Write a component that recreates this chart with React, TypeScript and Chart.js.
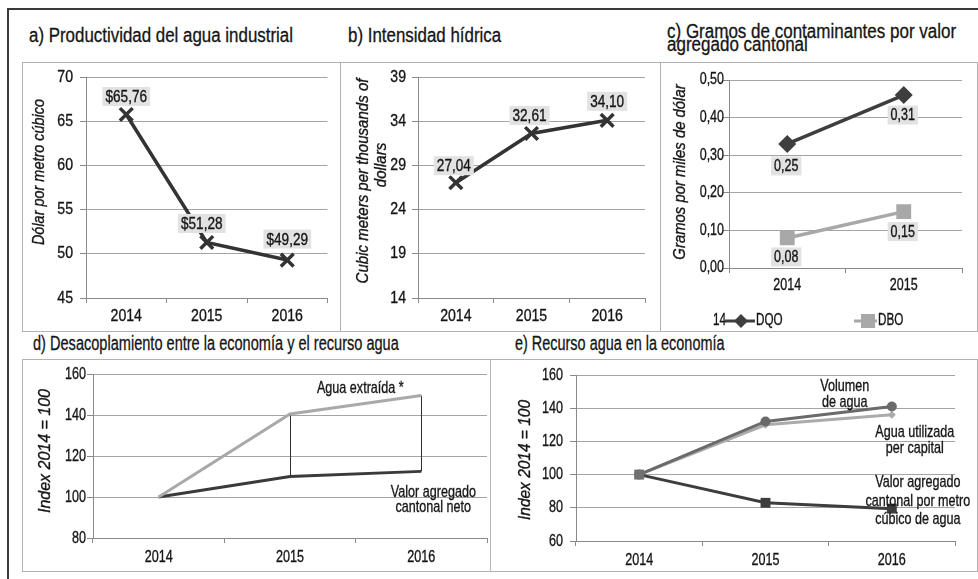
import React, { useEffect, useRef } from "react";
import { Chart, registerables } from "chart.js";
Chart.register(...registerables);

const FONT = "'Liberation Sans', Arial, sans-serif";
const TXT = "#151515";
const GRID = "#a4a4a4";
const AXIS = "#8a8a8a";

// ---- data ----
const years3 = ["2014", "2015", "2016"];
const years2 = ["2014", "2015"];

// a) Productividad del agua industrial
const productividad = [65.76, 51.28, 49.29];
const productividadLabels = ["$65,76", "$51,28", "$49,29"];
const ticksA = { min: 45, max: 70, step: 5 };

// b) Intensidad hídrica
const intensidad = [27.04, 32.61, 34.1];
const intensidadLabels = ["27,04", "32,61", "34,10"];
const ticksB = { min: 14, max: 39, step: 5 };

// c) Gramos de contaminantes
const dqo = [0.33, 0.46];
const dbo = [0.08, 0.15];
const dqoLabels = ["0,25", "0,31"];
const dboLabels = ["0,08", "0,15"];
const ticksC = { min: 0, max: 0.5, step: 0.1 };

// d) Desacoplamiento
const aguaExtraida = [100, 140.5, 149.5];
const valorAgregadoNeto = [100, 110, 112.5];
const ticksD = { min: 80, max: 160, step: 20 };

// e) Recurso agua en la economía
const volumenAgua = [100, 132, 141];
const aguaPerCapita = [100, 130, 136];
const valorPorM3 = [100, 83, 79.5];
const ticksE = { min: 60, max: 160, step: 20 };

type Box = { x: number; y: number; w: number; h: number };
type Area = { left: number; top: number; right: number; bottom: number };
type Geom = { yW: number; padTop: number; padRight: number; xH: number };

function drawText(
  ctx: CanvasRenderingContext2D,
  text: string,
  x: number,
  y: number,
  o: { size?: number; sx?: number; align?: CanvasTextAlign; italic?: boolean; rot?: number; color?: string } = {}
) {
  const { size = 16, sx = 1, align = "center", italic = false, rot = 0, color = TXT } = o;
  ctx.save();
  ctx.translate(x, y);
  if (rot) ctx.rotate(rot);
  ctx.scale(sx, 1);
  ctx.font = `${italic ? "italic " : ""}${size}px ${FONT}`;
  ctx.fillStyle = color;
  ctx.strokeStyle = color;
  ctx.lineWidth = 0.35;
  ctx.textAlign = align;
  ctx.textBaseline = "middle";
  ctx.fillText(text, 0, 0);
  ctx.strokeText(text, 0, 0);
  ctx.restore();
}

// ---- plugins ----
const tickText = {
  id: "tickText",
  afterDraw(chart: any, _a: any, o: any) {
    const ctx = chart.ctx;
    const xs = chart.scales.x;
    const ys = chart.scales.y;
    const ca = chart.chartArea;
    ys.ticks.forEach((t: any, i: number) => {
      drawText(ctx, o.fmt(t.value), ca.left - o.yGap, ys.getPixelForTick(i), { size: o.size, sx: o.sx, align: "right" });
    });
    xs.ticks.forEach((_t: any, i: number) => {
      drawText(ctx, String(chart.data.labels[i]), xs.getPixelForTick(i), ca.bottom + o.xOff, { size: o.size, sx: o.sx });
    });
  },
};

const pointLabels = {
  id: "pointLabels",
  afterDatasetsDraw(chart: any, _a: any, o: any) {
    const ctx = chart.ctx;
    (o.items || []).forEach((it: any) => {
      const meta = chart.getDatasetMeta(it.ds);
      meta.data.forEach((pt: any, i: number) => {
        const t = it.texts[i];
        if (!t) return;
        const x = pt.x + (it.dx ? it.dx[i] : 0);
        const y = pt.y + it.dy[i];
        ctx.save();
        ctx.font = `${o.size}px ${FONT}`;
        const w = ctx.measureText(t).width * o.sx;
        ctx.fillStyle = "#e2e2e2";
        ctx.fillRect(x - w / 2 - 3, y - 9.5, w + 6, 19);
        ctx.restore();
        drawText(ctx, t, x, y + 1, { size: o.size, sx: o.sx });
      });
    });
  },
};

const yTitle = {
  id: "yTitle",
  afterDraw(chart: any, _a: any, o: any) {
    const ctx = chart.ctx;
    (o.lines || []).forEach((ln: any) => {
      drawText(ctx, ln.t, ln.x, ln.cy, { size: 17, sx: o.sl, italic: true, rot: -Math.PI / 2 });
    });
  },
};

const notes = {
  id: "notes",
  afterDatasetsDraw(chart: any, _a: any, o: any) {
    const ctx = chart.ctx;
    (o.items || []).forEach((it: any) => {
      const pt = chart.getDatasetMeta(it.ds).data[it.i];
      it.lines.forEach((l: string, k: number) => {
        drawText(ctx, l, pt.x + it.dx, pt.y + it.dy + k * it.lh, { size: 17, sx: o.sx });
      });
    });
  },
};

const hiLo = {
  id: "hiLo",
  beforeDatasetsDraw(chart: any, _a: any, o: any) {
    if (!o.on) return;
    const ctx = chart.ctx;
    const a = chart.getDatasetMeta(0).data;
    const b = chart.getDatasetMeta(1).data;
    ctx.save();
    ctx.strokeStyle = "#2e2e2e";
    ctx.lineWidth = 1;
    a.forEach((p: any, i: number) => {
      ctx.beginPath();
      ctx.moveTo(Math.round(p.x) + 0.5, p.y);
      ctx.lineTo(Math.round(b[i].x) + 0.5, b[i].y);
      ctx.stroke();
    });
    ctx.restore();
  },
};

const legendC = {
  id: "legendC",
  afterDraw(chart: any, _a: any, o: any) {
    if (!o.on) return;
    const ctx = chart.ctx;
    const y = o.y;
    const st = { size: 16, sx: 0.73, align: "left" as CanvasTextAlign };
    drawText(ctx, "14", 53, y, st);
    ctx.save();
    ctx.strokeStyle = "#3e3e3e";
    ctx.lineWidth = 3;
    ctx.beginPath();
    ctx.moveTo(65, y);
    ctx.lineTo(95, y);
    ctx.stroke();
    ctx.fillStyle = "#3e3e3e";
    ctx.beginPath();
    ctx.moveTo(81, y - 7);
    ctx.lineTo(88, y);
    ctx.lineTo(81, y + 7);
    ctx.lineTo(74, y);
    ctx.closePath();
    ctx.fill();
    ctx.strokeStyle = "#a8a8a8";
    ctx.beginPath();
    ctx.moveTo(194, y);
    ctx.lineTo(217, y);
    ctx.stroke();
    ctx.fillStyle = "#a8a8a8";
    ctx.fillRect(201, y - 7, 14, 14);
    ctx.restore();
    drawText(ctx, "DQO", 96, y, st);
    drawText(ctx, "DBO", 218, y, st);
  },
};

function opts(g: Geom, t: { min: number; max: number; step: number }, plugins: any) {
  return {
    animation: false,
    responsive: false,
    maintainAspectRatio: false,
    layout: { padding: { left: 0, top: g.padTop, right: g.padRight, bottom: 0 } },
    plugins: { legend: { display: false }, tooltip: { enabled: false }, ...plugins },
    scales: {
      x: {
        type: "category",
        offset: true,
        grid: { display: true, drawOnChartArea: false, offset: true, drawTicks: true, tickLength: 5, color: AXIS, tickColor: AXIS },
        border: { display: true, color: AXIS, width: 1 },
        ticks: { display: false, maxRotation: 0, autoSkip: false },
        afterFit: (s: any) => { s.height = g.xH; },
      },
      y: {
        min: t.min,
        max: t.max,
        ticks: { display: false, stepSize: t.step },
        grid: { color: GRID, drawTicks: true, tickLength: 6, tickColor: AXIS },
        border: { display: true, color: AXIS, width: 1 },
        afterFit: (s: any) => { s.width = g.yW; },
      },
    },
  };
}

const intFmt = (v: number) => String(Math.round(v));
const decFmt = (v: number) => v.toFixed(2).replace(".", ",");

function ChartPanel({ box, area, make }: { box: Box; area: Area; make: (g: Geom) => any }) {
  const ref = useRef<HTMLCanvasElement>(null);
  useEffect(() => {
    const g: Geom = {
      yW: area.left - box.x,
      padTop: area.top - box.y,
      padRight: box.x + box.w - area.right,
      xH: box.y + box.h - area.bottom,
    };
    const chart = new Chart(ref.current as HTMLCanvasElement, make(g));
    return () => chart.destroy();
  }, []);
  return (
    <>
      <canvas
        ref={ref}
        width={box.w}
        height={box.h}
        style={{ position: "absolute", left: box.x, top: box.y, width: box.w, height: box.h, display: "block" }}
      />
      <div
        style={{
          position: "absolute",
          left: box.x,
          top: box.y,
          width: box.w + 1,
          height: box.h + 1,
          boxSizing: "border-box",
          border: "1px solid #b2b2b2",
          pointerEvents: "none",
        }}
      />
    </>
  );
}

const titleStyle = (left: number, top: number, sx: number, lh = 20): React.CSSProperties => ({
  position: "absolute",
  left,
  top,
  fontFamily: FONT,
  fontSize: 20,
  lineHeight: `${lh}px`,
  color: TXT,
  whiteSpace: "nowrap",
  transform: `scaleX(${sx})`,
  transformOrigin: "0 0",
  WebkitTextStroke: "0.3px #151515",
});

const crossDs = (data: number[]) => ({
  data,
  borderColor: "#333",
  borderWidth: 3.5,
  pointStyle: "crossRot",
  pointRadius: 9,
  pointBorderWidth: 3.5,
  pointBorderColor: "#333",
  tension: 0,
});

const TOP = { size: 17, sx: 0.83 };
const BOT = { size: 17, sx: 0.74 };

export default function App() {
  return (
    <div style={{ position: "absolute", left: 0, top: 0, width: 978, height: 579, background: "#fff", overflow: "hidden" }}>
      {/* outer frame */}
      <div style={{ position: "absolute", left: 7, top: 8, width: 971, height: 2, background: "#3a3a3a" }} />
      <div style={{ position: "absolute", left: 7, top: 8, width: 2, height: 571, background: "#3a3a3a" }} />

      <div style={titleStyle(29, 25, 0.845)}>a) Productividad del agua industrial</div>
      <div style={titleStyle(348, 25, 0.845)}>b) Intensidad hídrica</div>
      <div style={titleStyle(667, 25, 0.85, 13)}>
        c) Gramos de contaminantes por valor
        <br />
        agregado cantonal
      </div>
      <div style={titleStyle(33, 333, 0.728)}>d) Desacoplamiento entre la economía y el recurso agua</div>
      <div style={titleStyle(515, 333, 0.722)}>e) Recurso agua en la economía</div>

      <ChartPanel
        box={{ x: 22, y: 62, w: 318, h: 269 }}
        area={{ left: 86, top: 77, right: 328, bottom: 298 }}
        make={(g) => ({
          type: "line",
          data: { labels: years3, datasets: [crossDs(productividad)] },
          options: opts(g, ticksA, {
            tickText: { ...TOP, fmt: intFmt, yGap: 13, xOff: 18 },
            pointLabels: { size: 17, sx: 0.8, items: [{ ds: 0, texts: productividadLabels, dy: [-18, -19, -21], dx: [0, -5, 0] }] },
            yTitle: { sl: 0.85, lines: [{ t: "Dólar por metro cúbico", x: 17, cy: 110 }] },
          }),
          plugins: [tickText, pointLabels, yTitle],
        })}
      />

      <ChartPanel
        box={{ x: 340, y: 62, w: 320, h: 269 }}
        area={{ left: 418, top: 77, right: 645, bottom: 298 }}
        make={(g) => ({
          type: "line",
          data: { labels: years3, datasets: [crossDs(intensidad)] },
          options: opts(g, ticksB, {
            tickText: { ...TOP, fmt: intFmt, yGap: 12, xOff: 18 },
            pointLabels: { size: 17, sx: 0.8, items: [{ ds: 0, texts: intensidadLabels, dy: [-17, -18, -19], dx: [-2, -2, 0] }] },
            yTitle: {
              sl: 0.885,
              lines: [
                { t: "Cubic meters per thousands of", x: 23, cy: 119 },
                { t: "dollars", x: 41, cy: 103 },
              ],
            },
          }),
          plugins: [tickText, pointLabels, yTitle],
        })}
      />

      <ChartPanel
        box={{ x: 660, y: 62, w: 317, h: 269 }}
        area={{ left: 729, top: 80, right: 962, bottom: 268 }}
        make={(g) => ({
          type: "line",
          data: {
            labels: years2,
            datasets: [
              {
                data: dqo,
                borderColor: "#3e3e3e",
                backgroundColor: "#3e3e3e",
                borderWidth: 3.5,
                pointStyle: "rectRot",
                pointRadius: 9,
                pointBorderWidth: 0,
                pointBackgroundColor: "#3e3e3e",
              },
              {
                data: dbo,
                borderColor: "#a8a8a8",
                backgroundColor: "#a8a8a8",
                borderWidth: 3.5,
                pointStyle: "rect",
                pointRadius: 10.5,
                pointBorderWidth: 0,
                pointBackgroundColor: "#a8a8a8",
              },
            ],
          },
          options: opts(g, ticksC, {
            tickText: { size: 16, sx: 0.78, fmt: decFmt, yGap: 5, xOff: 18 },
            pointLabels: {
              size: 16,
              sx: 0.78,
              items: [
                { ds: 0, texts: dqoLabels, dy: [22, 20], dx: [-1, -1] },
                { ds: 1, texts: dboLabels, dy: [19, 20], dx: [-1, -1] },
              ],
            },
            yTitle: { sl: 0.875, lines: [{ t: "Gramos por miles de dólar", x: 20, cy: 110 }] },
            legendC: { on: true, y: 259 },
          }),
          plugins: [tickText, pointLabels, yTitle, legendC],
        })}
      />

      <ChartPanel
        box={{ x: 22, y: 359, w: 468, h: 212 }}
        area={{ left: 93, top: 374, right: 487, bottom: 538 }}
        make={(g) => ({
          type: "line",
          data: {
            labels: years3,
            datasets: [
              { data: aguaExtraida, borderColor: "#a9a9a9", borderWidth: 3, pointRadius: 0 },
              { data: valorAgregadoNeto, borderColor: "#3a3a3a", borderWidth: 3, pointRadius: 0 },
            ],
          },
          options: opts(g, ticksD, {
            tickText: { ...BOT, fmt: intFmt, yGap: 7, xOff: 19 },
            hiLo: { on: true },
            notes: {
              sx: 0.74,
              items: [
                { ds: 0, i: 2, dx: -61, dy: -7, lh: 15, lines: ["Agua extraída *"] },
                { ds: 1, i: 2, dx: 12, dy: 21, lh: 15, lines: ["Valor agregado", "cantonal neto"] },
              ],
            },
            yTitle: { sl: 0.94, lines: [{ t: "Index 2014 = 100", x: 23, cy: 92 }] },
          }),
          plugins: [tickText, hiLo, notes, yTitle],
        })}
      />

      <ChartPanel
        box={{ x: 490, y: 359, w: 487, h: 212 }}
        area={{ left: 576, top: 375, right: 955, bottom: 541 }}
        make={(g) => ({
          type: "line",
          data: {
            labels: years3,
            datasets: [
              {
                data: valorPorM3,
                borderColor: "#3d3d3d",
                borderWidth: 3,
                pointStyle: "rect",
                pointRadius: 7,
                pointBorderWidth: 0,
                pointBackgroundColor: ["#707070", "#3d3d3d", "#3d3d3d"],
              },
              {
                data: volumenAgua,
                borderColor: "#6a6a6a",
                borderWidth: 3,
                pointStyle: "circle",
                pointRadius: 5,
                pointBorderWidth: 0,
                pointBackgroundColor: "#6a6a6a",
              },
              {
                data: aguaPerCapita,
                borderColor: "#ababab",
                borderWidth: 3,
                pointStyle: "rectRot",
                pointRadius: 4,
                pointBorderWidth: 0,
                pointBackgroundColor: "#ababab",
              },
            ],
          },
          options: opts(g, ticksE, {
            tickText: { ...BOT, fmt: intFmt, yGap: 13, xOff: 19 },
            notes: {
              sx: 0.74,
              items: [
                { ds: 1, i: 2, dx: -47, dy: -20, lh: 16, lines: ["Volumen", "de agua"] },
                { ds: 2, i: 2, dx: 23, dy: 17, lh: 16, lines: ["Agua utilizada", "per capital"] },
                { ds: 0, i: 2, dx: 26, dy: -26, lh: 18.5, lines: ["Valor agregado", "cantonal por metro", "cúbico de agua"] },
              ],
            },
            yTitle: { sl: 0.91, lines: [{ t: "Index 2014 = 100", x: 35, cy: 101 }] },
          }),
          plugins: [tickText, notes, yTitle],
        })}
      />
    </div>
  );
}
